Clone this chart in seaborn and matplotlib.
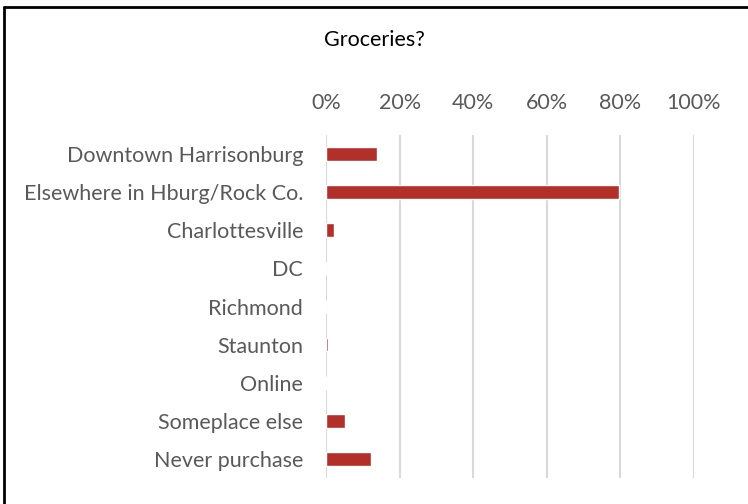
import matplotlib
matplotlib.use("Agg")
import matplotlib.pyplot as plt
import matplotlib.ticker as mticker
from matplotlib.lines import Line2D
import seaborn as sns
import pandas as pd

categories = [
    "Downtown Harrisonburg",
    "Elsewhere in Hburg/Rock Co.",
    "Charlottesville",
    "DC",
    "Richmond",
    "Staunton",
    "Online",
    "Someplace else",
    "Never purchase",
]
shares = [0.138, 0.797, 0.023, 0.0, 0.0, 0.005, 0.0, 0.052, 0.123]
x_ticks = [0.0, 0.2, 0.4, 0.6, 0.8, 1.0]

df = pd.DataFrame({"place": categories, "share": shares})

sns.set_theme(style="white")
plt.rcParams["font.family"] = ["Lato", "DejaVu Sans"]

fig = plt.figure(figsize=(7.48, 5.04), dpi=100)
ax = fig.add_axes([0.4358, 0.0516, 0.492, 0.6804])

sns.barplot(data=df, x="share", y="place", orient="h", color="#B3302A",
            saturation=1, width=0.36, ax=ax, zorder=3)

ax.set_xlim(0, 1.0)
ax.set_xticks(x_ticks)
ax.xaxis.set_major_formatter(mticker.PercentFormatter(1.0, decimals=0))
ax.xaxis.tick_top()
ax.grid(axis="x", color="#D9D9D9", linewidth=1.5, zorder=0)
ax.grid(axis="y", visible=False)
for s in ax.spines.values():
    s.set_visible(False)
ax.tick_params(axis="x", length=0, pad=16, labelsize=15.5, labelcolor="#595959")
ax.tick_params(axis="y", length=0, pad=16.5, labelsize=15.5, labelcolor="#595959")
ax.set_xlabel("")
ax.set_ylabel("")

fig.text(0.501, 0.921, "Groceries?", ha="center", va="center",
         fontsize=15.5, color="black")

# chart frame
fig.add_artist(Line2D([4 / 748, 4 / 748], [0, 1 - 7 / 504], color="black",
                      linewidth=2, transform=fig.transFigure))
fig.add_artist(Line2D([4 / 748, 1], [1 - 7 / 504, 1 - 7 / 504], color="black",
                      linewidth=2, transform=fig.transFigure))

fig.savefig("out.png", dpi=100)
